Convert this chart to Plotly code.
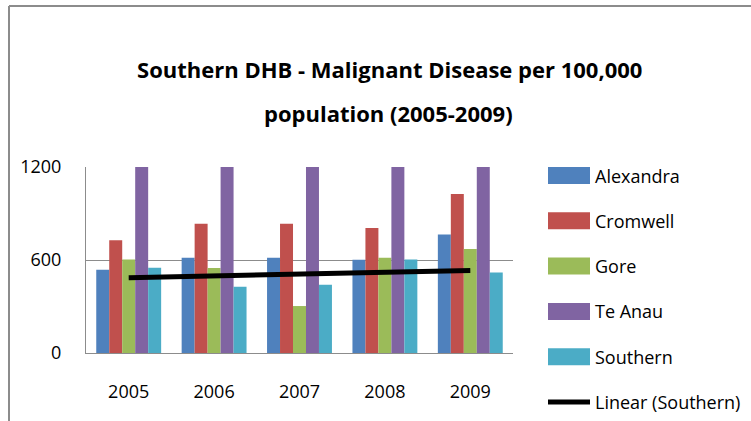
import numpy as np
import plotly.graph_objects as go

years = ["2005", "2006", "2007", "2008", "2009"]
alexandra = [537, 615, 615, 602, 765]
cromwell = [727, 834, 834, 806, 1026]
gore = [604, 548, 303, 615, 671]
te_anau = [1650, 1480, 1720, 1540, 1810]   # off the top of the axis in the original
southern = [550, 428, 441, 604, 520]

series = [
    ("Alexandra", alexandra, "#4F81BD"),
    ("Cromwell", cromwell, "#C0504D"),
    ("Gore", gore, "#9BBB59"),
    ("Te Anau", te_anau, "#8064A2"),
    ("Southern", southern, "#4BACC6"),
]
trend_name = "Linear (Southern)"

FONT = "Open Sans, sans-serif"
GREY = "#8c8c8c"
W, H = 751, 421
L, R, T, B = 86, 238, 167, 68
PW, PH = W - L - R, H - T - B


def px(x):   # pixel -> paper coords, for the legend/border decorations
    return (x - L) / PW


def py(y):
    return (H - B - y) / PH


fig = go.Figure()
for name, vals, col in series:
    fig.add_trace(go.Bar(name=name, x=years, y=vals, marker_color=col,
                         marker_line_width=0))

# linear trendline through the Southern series, like Excel's
idx = np.arange(len(years))
slope, icpt = np.polyfit(idx, southern, 1)
fig.add_trace(go.Scatter(x=years, y=slope * idx + icpt, mode="lines",
                         name=trend_name, line=dict(color="black", width=5)))

fig.update_layout(
    width=W, height=H,
    barmode="group", bargap=0.24, bargroupgap=0,
    title=dict(text="<b>Southern DHB - Malignant Disease per 100,000</b>",
               x=0.519, xanchor="center", y=1 - 70 / H, yanchor="middle",
               font=dict(family=FONT, size=22, color="black")),
    font=dict(family=FONT, size=18, color="black"),
    margin=dict(l=L, r=R, t=T, b=B, autoexpand=False),
    paper_bgcolor="white", plot_bgcolor="white",
    showlegend=False,
)
# second title line sits lower than Plotly's own line spacing would put it
fig.add_annotation(text="<b>population (2005-2009)</b>", xref="paper", yref="paper",
                   x=px(388), y=py(113), xanchor="center", yanchor="middle",
                   showarrow=False, font=dict(family=FONT, size=22, color="black"))

# Excel-style legend: wide colour blocks
for i, (name, vals, col) in enumerate(series + [(trend_name, None, "black")]):
    yc = 175.5 + 45.3 * i
    if vals is None:
        fig.add_shape(type="line", xref="paper", yref="paper",
                      x0=px(548), x1=px(590), y0=py(yc), y1=py(yc),
                      line=dict(color="black", width=5))
    else:
        fig.add_shape(type="rect", xref="paper", yref="paper",
                      x0=px(548), x1=px(590), y0=py(yc - 8.5), y1=py(yc + 8.5),
                      fillcolor=col, line_width=0)
    fig.add_annotation(text=name, xref="paper", yref="paper", x=px(593), y=py(yc),
                       xanchor="left", yanchor="middle", showarrow=False,
                       font=dict(family=FONT, size=18, color="black"))

fig.update_yaxes(range=[0, 1200], tickvals=[0, 600, 1200], showgrid=True,
                 gridcolor=GREY, gridwidth=1, showline=True, linecolor=GREY,
                 ticks="", ticklabelstandoff=20, zeroline=False, automargin=False)
fig.update_xaxes(showline=True, linecolor=GREY, ticks="",
                 ticklabelstandoff=22, automargin=False)

# outer chart border (left and top edges visible in the crop)
fig.add_shape(type="line", xref="paper", yref="paper", x0=px(9), x1=px(9),
              y0=py(430), y1=py(6), line=dict(color=GREY, width=2))
fig.add_shape(type="line", xref="paper", yref="paper", x0=px(9), x1=px(760),
              y0=py(6), y1=py(6), line=dict(color=GREY, width=2))

# drop the page's default 8px body margin so the figure sits at the window corner
fig.write_html("out.html", config={"displayModeBar": False},
               post_script="document.body.style.margin='0';")
